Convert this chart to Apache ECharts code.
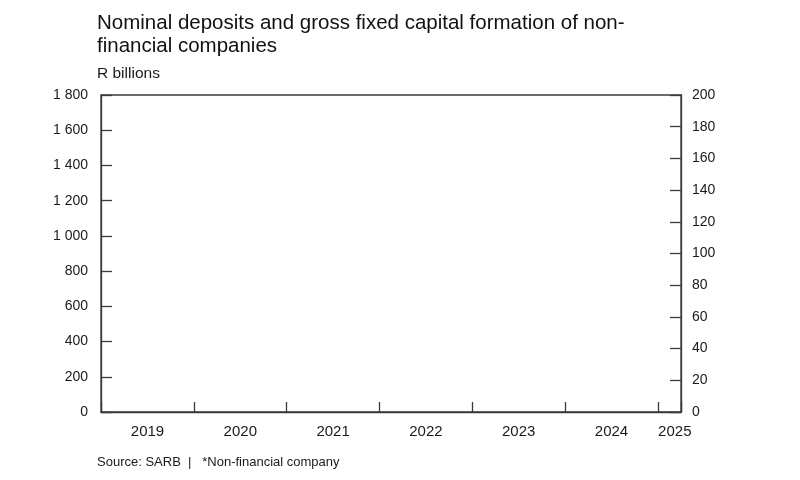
<!DOCTYPE html>
<html>
<head>
<meta charset="utf-8">
<script src="https://cdn.jsdelivr.net/npm/echarts@6/dist/echarts.min.js"></script>
<style>
html,body{margin:0;padding:0;background:#fff;}
#chart{width:800px;height:480px;}
</style>
</head>
<body>
<div id="chart"></div>
<script>
// Year labels (x axis measured in quarters since 2019 Q1)
const years = ['2019', '2020', '2021', '2022', '2023', '2024', '2025'];
// No data is drawn in the reference chart
const deposits = [];
const gfcf = [];

const titleText = 'Nominal deposits and gross fixed capital formation of non-\nfinancial companies';
const unitText = 'R billions';
const footerText = 'Source: SARB  |   *Non-financial company';

const FONT = '"Liberation Sans", Arial, Helvetica, sans-serif';
const AX = '#3a3a3a';
const TXT = '#1a1a1a';

function spaced(v) {
  return String(v).replace(/\B(?=(\d{3})+(?!\d))/g, ' ');
}

const chart = echarts.init(document.getElementById('chart'), null, {renderer: 'canvas'});
chart.setOption({
  animation: false,
  backgroundColor: '#fff',
  textStyle: {fontFamily: FONT},
  title: {
    text: titleText,
    left: 92, top: 7,
    textStyle: {fontFamily: FONT, fontSize: 20.5, fontWeight: 'normal', color: '#111', lineHeight: 23}
  },
  graphic: [
    {type: 'text', left: 97, top: 66, style: {text: unitText, fontFamily: FONT, fontSize: 15.5, fill: TXT}},
    {type: 'text', left: 97, top: 456, style: {text: footerText, fontFamily: FONT, fontSize: 13, fill: TXT}}
  ],
  grid: {
    left: 101, right: 119, top: 95, bottom: 68,
    show: true, borderColor: AX, borderWidth: 1.3, backgroundColor: 'transparent'
  },
  xAxis: {
    type: 'value', min: 0, max: 25, interval: 4,
    axisLine: {show: true, lineStyle: {color: AX, width: 1.3}},
    axisTick: {show: true, inside: true, length: 10, lineStyle: {color: AX, width: 1.3}},
    splitLine: {show: false},
    axisLabel: {
      margin: 12, fontSize: 15, color: TXT, fontFamily: FONT,
      formatter: function (v) {
        if (v % 4 !== 0) return '';
        const i = v / 4;
        const y = years[i];
        if (!y) return '';
        return i === years.length - 1 ? '{l|' + y + '}' : '{y|' + y + '}';
      },
      rich: {
        y: {padding: [0, 0, 0, 93], fontSize: 15, color: TXT, fontFamily: FONT},
        l: {padding: [0, 0, 0, 34], fontSize: 15, color: TXT, fontFamily: FONT}
      }
    }
  },
  yAxis: [
    {
      type: 'value', position: 'left', min: 0, max: 1800, interval: 200,
      axisLine: {show: true, lineStyle: {color: AX, width: 1.3}},
      axisTick: {show: true, inside: true, length: 11, lineStyle: {color: AX, width: 1.3}},
      splitLine: {show: false},
      axisLabel: {margin: 13, fontSize: 14, color: TXT, fontFamily: FONT, formatter: spaced}
    },
    {
      type: 'value', position: 'right', min: 0, max: 200, interval: 20,
      axisLine: {show: true, lineStyle: {color: AX, width: 1.3}},
      axisTick: {show: true, inside: true, length: 11, lineStyle: {color: AX, width: 1.3}},
      splitLine: {show: false},
      axisLabel: {margin: 11, fontSize: 14, color: TXT, fontFamily: FONT}
    }
  ],
  series: [
    {name: 'Deposits', type: 'line', yAxisIndex: 0, data: deposits, showSymbol: false},
    {name: 'Gross fixed capital formation', type: 'line', yAxisIndex: 1, data: gfcf, showSymbol: false}
  ]
});
</script>
</body>
</html>
